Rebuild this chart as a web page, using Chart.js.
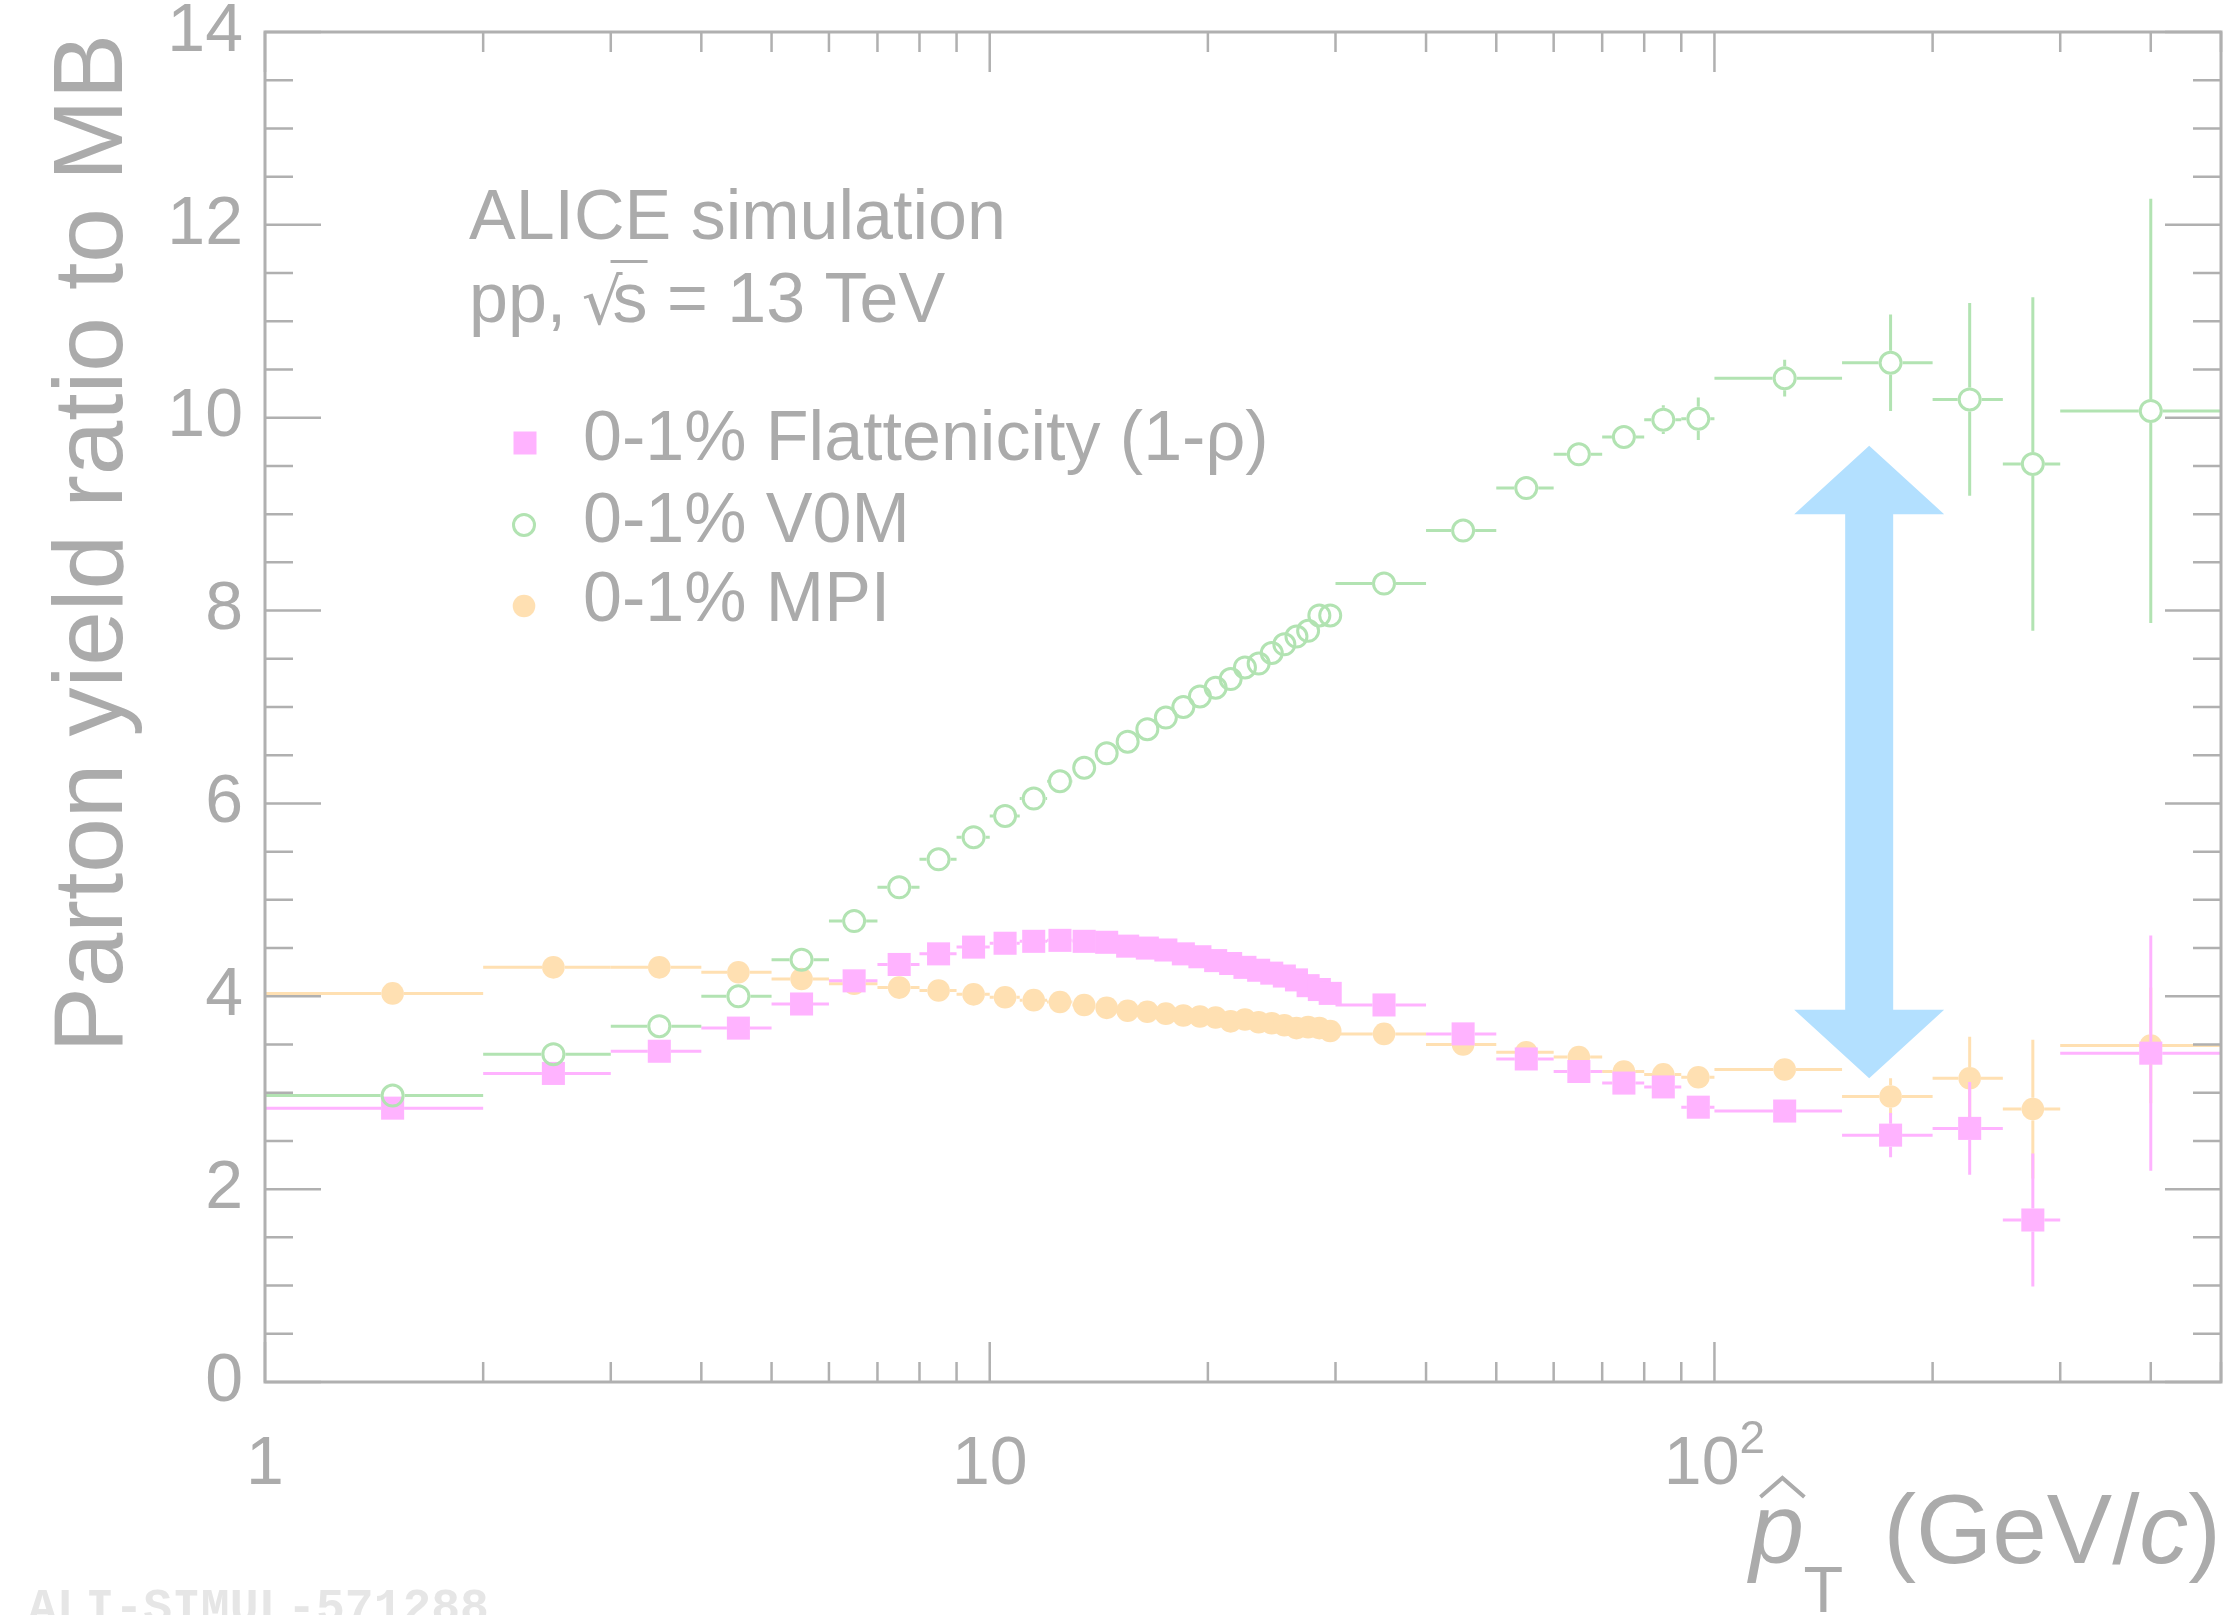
<!DOCTYPE html>
<html>
<head>
<meta charset="utf-8">
<script src="https://cdn.jsdelivr.net/npm/chart.js@4.4.1/dist/chart.umd.min.js"></script>
<style>html,body{margin:0;padding:0;background:#fff;}canvas{display:block;}</style>
</head>
<body>
<canvas id="c" width="2230" height="1615"></canvas>
<script>
// ---------------- data ----------------
const binLow    = [1,2,3,4,5,6,7,8,9,10,11,12,13,14,15,16,17,18,19,20,21,22,23,24,25,26,27,28,29,30,40,50,60,70,80,90,100,150,200,250,300];
const binHigh   = [2,3,4,5,6,7,8,9,10,11,12,13,14,15,16,17,18,19,20,21,22,23,24,25,26,27,28,29,30,40,50,60,70,80,90,100,150,200,250,300,500];
const binCenter = [1.5,2.5,3.5,4.5,5.5,6.5,7.5,8.5,9.5,10.5,11.5,12.5,13.5,14.5,15.5,16.5,17.5,18.5,19.5,20.5,21.5,22.5,23.5,24.5,25.5,26.5,27.5,28.5,29.5,35,45,55,65,75,85,95,125,175,225,275,400];

const flatValues = [2.84,3.20,3.43,3.67,3.92,4.16,4.33,4.44,4.51,4.55,4.57,4.58,4.57,4.56,4.52,4.50,4.48,4.44,4.41,4.37,4.34,4.30,4.27,4.24,4.21,4.17,4.11,4.07,4.03,3.91,3.61,3.35,3.22,3.10,3.06,2.85,2.81,2.56,2.63,1.68,3.41];
const flatErrors = [0.01,0.01,0.01,0.01,0.01,0.01,0.01,0.01,0.01,0.01,0.01,0.01,0.01,0.01,0.01,0.01,0.01,0.01,0.01,0.01,0.01,0.01,0.01,0.01,0.01,0.01,0.01,0.01,0.01,0.02,0.03,0.04,0.05,0.06,0.07,0.08,0.09,0.23,0.48,0.69,1.22];

const v0mValues = [2.97,3.40,3.69,4.00,4.38,4.78,5.13,5.42,5.65,5.87,6.05,6.23,6.37,6.52,6.64,6.77,6.89,7.00,7.11,7.20,7.29,7.41,7.45,7.56,7.65,7.73,7.79,7.95,7.95,8.28,8.83,9.27,9.62,9.80,9.98,9.99,10.41,10.57,10.19,9.52,10.07];
const v0mErrors = [0.01,0.01,0.01,0.01,0.01,0.01,0.01,0.01,0.01,0.01,0.01,0.01,0.01,0.01,0.01,0.01,0.01,0.01,0.01,0.01,0.01,0.01,0.01,0.02,0.02,0.02,0.02,0.02,0.02,0.03,0.04,0.06,0.07,0.09,0.15,0.22,0.19,0.50,1.00,1.73,2.20];

const mpiValues = [4.03,4.30,4.30,4.25,4.18,4.13,4.09,4.06,4.02,3.99,3.96,3.94,3.91,3.88,3.85,3.84,3.82,3.80,3.79,3.78,3.74,3.76,3.73,3.72,3.70,3.67,3.68,3.67,3.64,3.61,3.50,3.42,3.37,3.22,3.19,3.16,3.24,2.96,3.15,2.83,3.49];
const mpiErrors = [0.01,0.01,0.01,0.01,0.01,0.01,0.01,0.01,0.01,0.01,0.01,0.01,0.01,0.01,0.01,0.01,0.01,0.01,0.01,0.01,0.01,0.01,0.01,0.01,0.01,0.01,0.01,0.01,0.01,0.02,0.03,0.03,0.04,0.05,0.06,0.07,0.08,0.19,0.43,0.72,0.60];

const seriesLabels = ['0-1% Flattenicity (1-\u03C1)', '0-1% V0M', '0-1% MPI'];

const yMajorTicks = [0,2,4,6,8,10,12,14];
const yMinorTicks = [0.5,1,1.5,2.5,3,3.5,4.5,5,5.5,6.5,7,7.5,8.5,9,9.5,10.5,11,11.5,12.5,13,13.5];
const xMajorTicks = [1,10,100];
const xMajorLabels = [['1',''],['10',''],['10','2']];
const xMinorTicks = [2,3,4,5,6,7,8,9,20,30,40,50,60,70,80,90,200,300,400,500];

const arrowX = 163.5;
const arrowY = {top:9.71, headTop:9.0, headBottom:3.86, bottom:3.15};

const headerLines = ['ALICE simulation', 'pp, '];
// ---------------- styles ----------------
const FAM = "'Liberation Sans', Arial, Helvetica, sans-serif";
const TXT = '#ababab';
const AXC = '#b0b0b0';
const PINK = '#ffb3ff', GREEN = '#b2e3b2', ORANGE = '#ffe0b2', BLUE = '#b3e0ff';

const mk = (vals) => binCenter.map((x,i)=>({x:x, y:vals[i]}));

const errorBars = {
  id:'errorBars',
  beforeDatasetDraw(chart, args){
    const ds = chart.data.datasets[args.index];
    const xs = chart.scales.x, ys = chart.scales.y, ctx = chart.ctx, a = chart.chartArea;
    ctx.save();
    ctx.beginPath(); ctx.rect(a.left, a.top, a.right-a.left, a.bottom-a.top); ctx.clip();
    ctx.strokeStyle = ds.errColor; ctx.lineWidth = 3; ctx.lineCap = 'butt';
    const g = ds.errGap;
    ds.data.forEach((p,i)=>{
      const px = xs.getPixelForValue(p.x), py = ys.getPixelForValue(p.y);
      const xl = xs.getPixelForValue(binLow[i]), xr = xs.getPixelForValue(binHigh[i]);
      const yt = ys.getPixelForValue(p.y + ds.yErr[i]), yb = ys.getPixelForValue(p.y - ds.yErr[i]);
      ctx.beginPath();
      if (xl < px-g){ ctx.moveTo(xl,py); ctx.lineTo(px-g,py); }
      if (xr > px+g){ ctx.moveTo(px+g,py); ctx.lineTo(xr,py); }
      if (yt < py-g){ ctx.moveTo(px,yt); ctx.lineTo(px,py-g); }
      if (yb > py+g){ ctx.moveTo(px,py+g); ctx.lineTo(px,yb); }
      ctx.stroke();
    });
    ctx.restore();
  }
};

const arrowPlugin = {
  id:'arrow',
  beforeDatasetsDraw(chart){
    const xs = chart.scales.x, ys = chart.scales.y, ctx = chart.ctx;
    const cx = xs.getPixelForValue(arrowX);
    const yT = ys.getPixelForValue(arrowY.top), yHT = ys.getPixelForValue(arrowY.headTop);
    const yHB = ys.getPixelForValue(arrowY.headBottom), yB = ys.getPixelForValue(arrowY.bottom);
    const hw = 75, sw = 24;
    ctx.save(); ctx.fillStyle = BLUE; ctx.beginPath();
    ctx.moveTo(cx, yT); ctx.lineTo(cx+hw, yHT); ctx.lineTo(cx+sw, yHT); ctx.lineTo(cx+sw, yHB);
    ctx.lineTo(cx+hw, yHB); ctx.lineTo(cx, yB); ctx.lineTo(cx-hw, yHB); ctx.lineTo(cx-sw, yHB);
    ctx.lineTo(cx-sw, yHT); ctx.lineTo(cx-hw, yHT); ctx.closePath(); ctx.fill(); ctx.restore();
  }
};

const framePlugin = {
  id:'frame',
  afterDatasetsDraw(chart){
    const xs = chart.scales.x, ys = chart.scales.y, ctx = chart.ctx, a = chart.chartArea;
    ctx.save();
    ctx.strokeStyle = AXC; ctx.lineWidth = 2.5;
    ctx.beginPath();
    yMajorTicks.forEach(v=>{ const y = ys.getPixelForValue(v); ctx.moveTo(a.left,y); ctx.lineTo(a.left+56,y); ctx.moveTo(a.right,y); ctx.lineTo(a.right-56,y); });
    yMinorTicks.forEach(v=>{ const y = ys.getPixelForValue(v); ctx.moveTo(a.left,y); ctx.lineTo(a.left+28,y); ctx.moveTo(a.right,y); ctx.lineTo(a.right-28,y); });
    xMajorTicks.forEach(v=>{ const x = xs.getPixelForValue(v); ctx.moveTo(x,a.bottom); ctx.lineTo(x,a.bottom-40); ctx.moveTo(x,a.top); ctx.lineTo(x,a.top+40); });
    xMinorTicks.forEach(v=>{ const x = xs.getPixelForValue(v); ctx.moveTo(x,a.bottom); ctx.lineTo(x,a.bottom-20); ctx.moveTo(x,a.top); ctx.lineTo(x,a.top+20); });
    ctx.stroke();
    ctx.lineWidth = 3;
    ctx.strokeRect(a.left, a.top, a.right-a.left, a.bottom-a.top);
    ctx.restore();
  }
};

const textPlugin = {
  id:'texts',
  afterDraw(chart){
    const ctx = chart.ctx, a = chart.chartArea, xs = chart.scales.x;
    ctx.save();
    ctx.fillStyle = TXT; ctx.textBaseline = 'alphabetic';
    // x tick labels
    xMajorTicks.forEach((v,i)=>{
      const x = xs.getPixelForValue(v);
      ctx.font = `68px ${FAM}`;
      const w1 = ctx.measureText(xMajorLabels[i][0]).width;
      ctx.font = `46px ${FAM}`;
      const w2 = xMajorLabels[i][1] ? ctx.measureText(xMajorLabels[i][1]).width : 0;
      const x0 = x - (w1+w2)/2;
      ctx.textAlign = 'left';
      ctx.font = `68px ${FAM}`; ctx.fillText(xMajorLabels[i][0], x0, 1484);
      if (w2){ ctx.font = `46px ${FAM}`; ctx.fillText(xMajorLabels[i][1], x0+w1, 1453); }
    });
    // header
    ctx.textAlign = 'left';
    ctx.font = `70px ${FAM}`;
    ctx.fillText(headerLines[0], 469, 239);
    ctx.fillText(headerLines[1], 469, 322);
    let x = 469 + ctx.measureText(headerLines[1]).width;
    ctx.font = `64px 'DejaVu Sans', ${FAM}`;
    ctx.fillText('\u221A', x-4, 324);
    x += ctx.measureText('\u221A').width - 14;
    ctx.font = `70px ${FAM}`;
    const ws = ctx.measureText('s').width;
    ctx.fillText('s', x, 322);
    ctx.fillRect(x-2, 260, ws+2, 3);
    x += ws;
    ctx.fillText(' = 13 TeV', x, 322);
    // legend
    const legY = [443, 525, 606];
    const legBase = [460, 542, 621];
    ctx.fillStyle = PINK; ctx.fillRect(525-11.5, legY[0]-11.5, 23, 23);
    ctx.strokeStyle = GREEN; ctx.lineWidth = 3; ctx.beginPath(); ctx.arc(524, legY[1], 10.5, 0, Math.PI*2); ctx.stroke();
    ctx.fillStyle = ORANGE; ctx.beginPath(); ctx.arc(524, legY[2], 11.3, 0, Math.PI*2); ctx.fill();
    ctx.fillStyle = TXT; ctx.font = `70px ${FAM}`;
    seriesLabels.forEach((t,i)=> ctx.fillText(t, 583, legBase[i]));
    // y title
    ctx.save();
    ctx.translate(122, 34); ctx.rotate(-Math.PI/2);
    ctx.textAlign = 'right'; ctx.font = `98px ${FAM}`;
    ctx.fillText('Parton yield ratio to MB', 0, 0);
    ctx.restore();
    // x title
    ctx.font = `98px ${FAM}`;
    const wA = ctx.measureText('(GeV/').width, wC = ctx.measureText(')').width;
    ctx.font = `italic 98px ${FAM}`;
    const wB = ctx.measureText('c').width;
    const xr = a.right;
    const x0 = xr - (wA+wB+wC);
    ctx.textAlign = 'left';
    ctx.font = `98px ${FAM}`; ctx.fillText('(GeV/', x0, 1563);
    ctx.font = `italic 98px ${FAM}`; ctx.fillText('c', x0+wA, 1563);
    ctx.font = `98px ${FAM}`; ctx.fillText(')', x0+wA+wB, 1563);
    ctx.font = `italic 98px ${FAM}`; ctx.fillText('p', x0-134, 1563);
    ctx.font = `65px ${FAM}`; ctx.fillText('T', x0-80, 1612);
    ctx.strokeStyle = TXT; ctx.lineWidth = 4; ctx.lineJoin='miter';
    ctx.beginPath(); ctx.moveTo(x0-123, 1497); ctx.lineTo(x0-101, 1478); ctx.lineTo(x0-79, 1497); ctx.stroke();
    // watermark
    ctx.fillStyle = '#e6e6e6'; ctx.font = `bold 48px 'Liberation Mono', 'Courier New', monospace`;
    ctx.fillText('ALI-SIMUL-571288', 28, 1622);
    ctx.restore();
  }
};

new Chart(document.getElementById('c'), {
  type:'scatter',
  data:{ datasets:[
    { label:seriesLabels[0], data:mk(flatValues), yErr:flatErrors, errColor:PINK, errGap:11.5,
      pointStyle:'rect', pointRadius:16.3, backgroundColor:PINK, borderWidth:0, order:2 },
    { label:seriesLabels[1], data:mk(v0mValues), yErr:v0mErrors, errColor:GREEN, errGap:12,
      pointStyle:'circle', pointRadius:10.5, backgroundColor:'rgba(0,0,0,0)', borderColor:GREEN, borderWidth:3, order:1 },
    { label:seriesLabels[2], data:mk(mpiValues), yErr:mpiErrors, errColor:ORANGE, errGap:11.3,
      pointStyle:'circle', pointRadius:11.3, backgroundColor:ORANGE, borderWidth:0, order:3 }
  ]},
  options:{
    responsive:false, animation:false, events:[], devicePixelRatio:1,
    layout:{ autoPadding:false, padding:{ top:32, right:9, left:0, bottom:0 } },
    plugins:{ legend:{display:false}, tooltip:{enabled:false} },
    scales:{
      x:{ type:'logarithmic', min:1, max:500, position:'bottom',
          grid:{display:false, drawTicks:false, tickLength:0}, border:{display:false},
          ticks:{display:false},
          afterFit(s){ s.height = 233; s.paddingLeft = 0; s.paddingRight = 0; } },
      y:{ type:'linear', min:0, max:14, position:'left',
          grid:{display:false, drawTicks:false, tickLength:0}, border:{display:false},
          afterBuildTicks(s){ s.ticks = yMajorTicks.map(v=>({value:v})); },
          ticks:{ color:TXT, font:{size:68, family:FAM}, padding:22, autoSkip:false },
          afterFit(s){ s.width = 265; s.paddingTop = 0; s.paddingBottom = 0; } }
    }
  },
  plugins:[errorBars, arrowPlugin, framePlugin, textPlugin]
});
</script>
</body>
</html>
